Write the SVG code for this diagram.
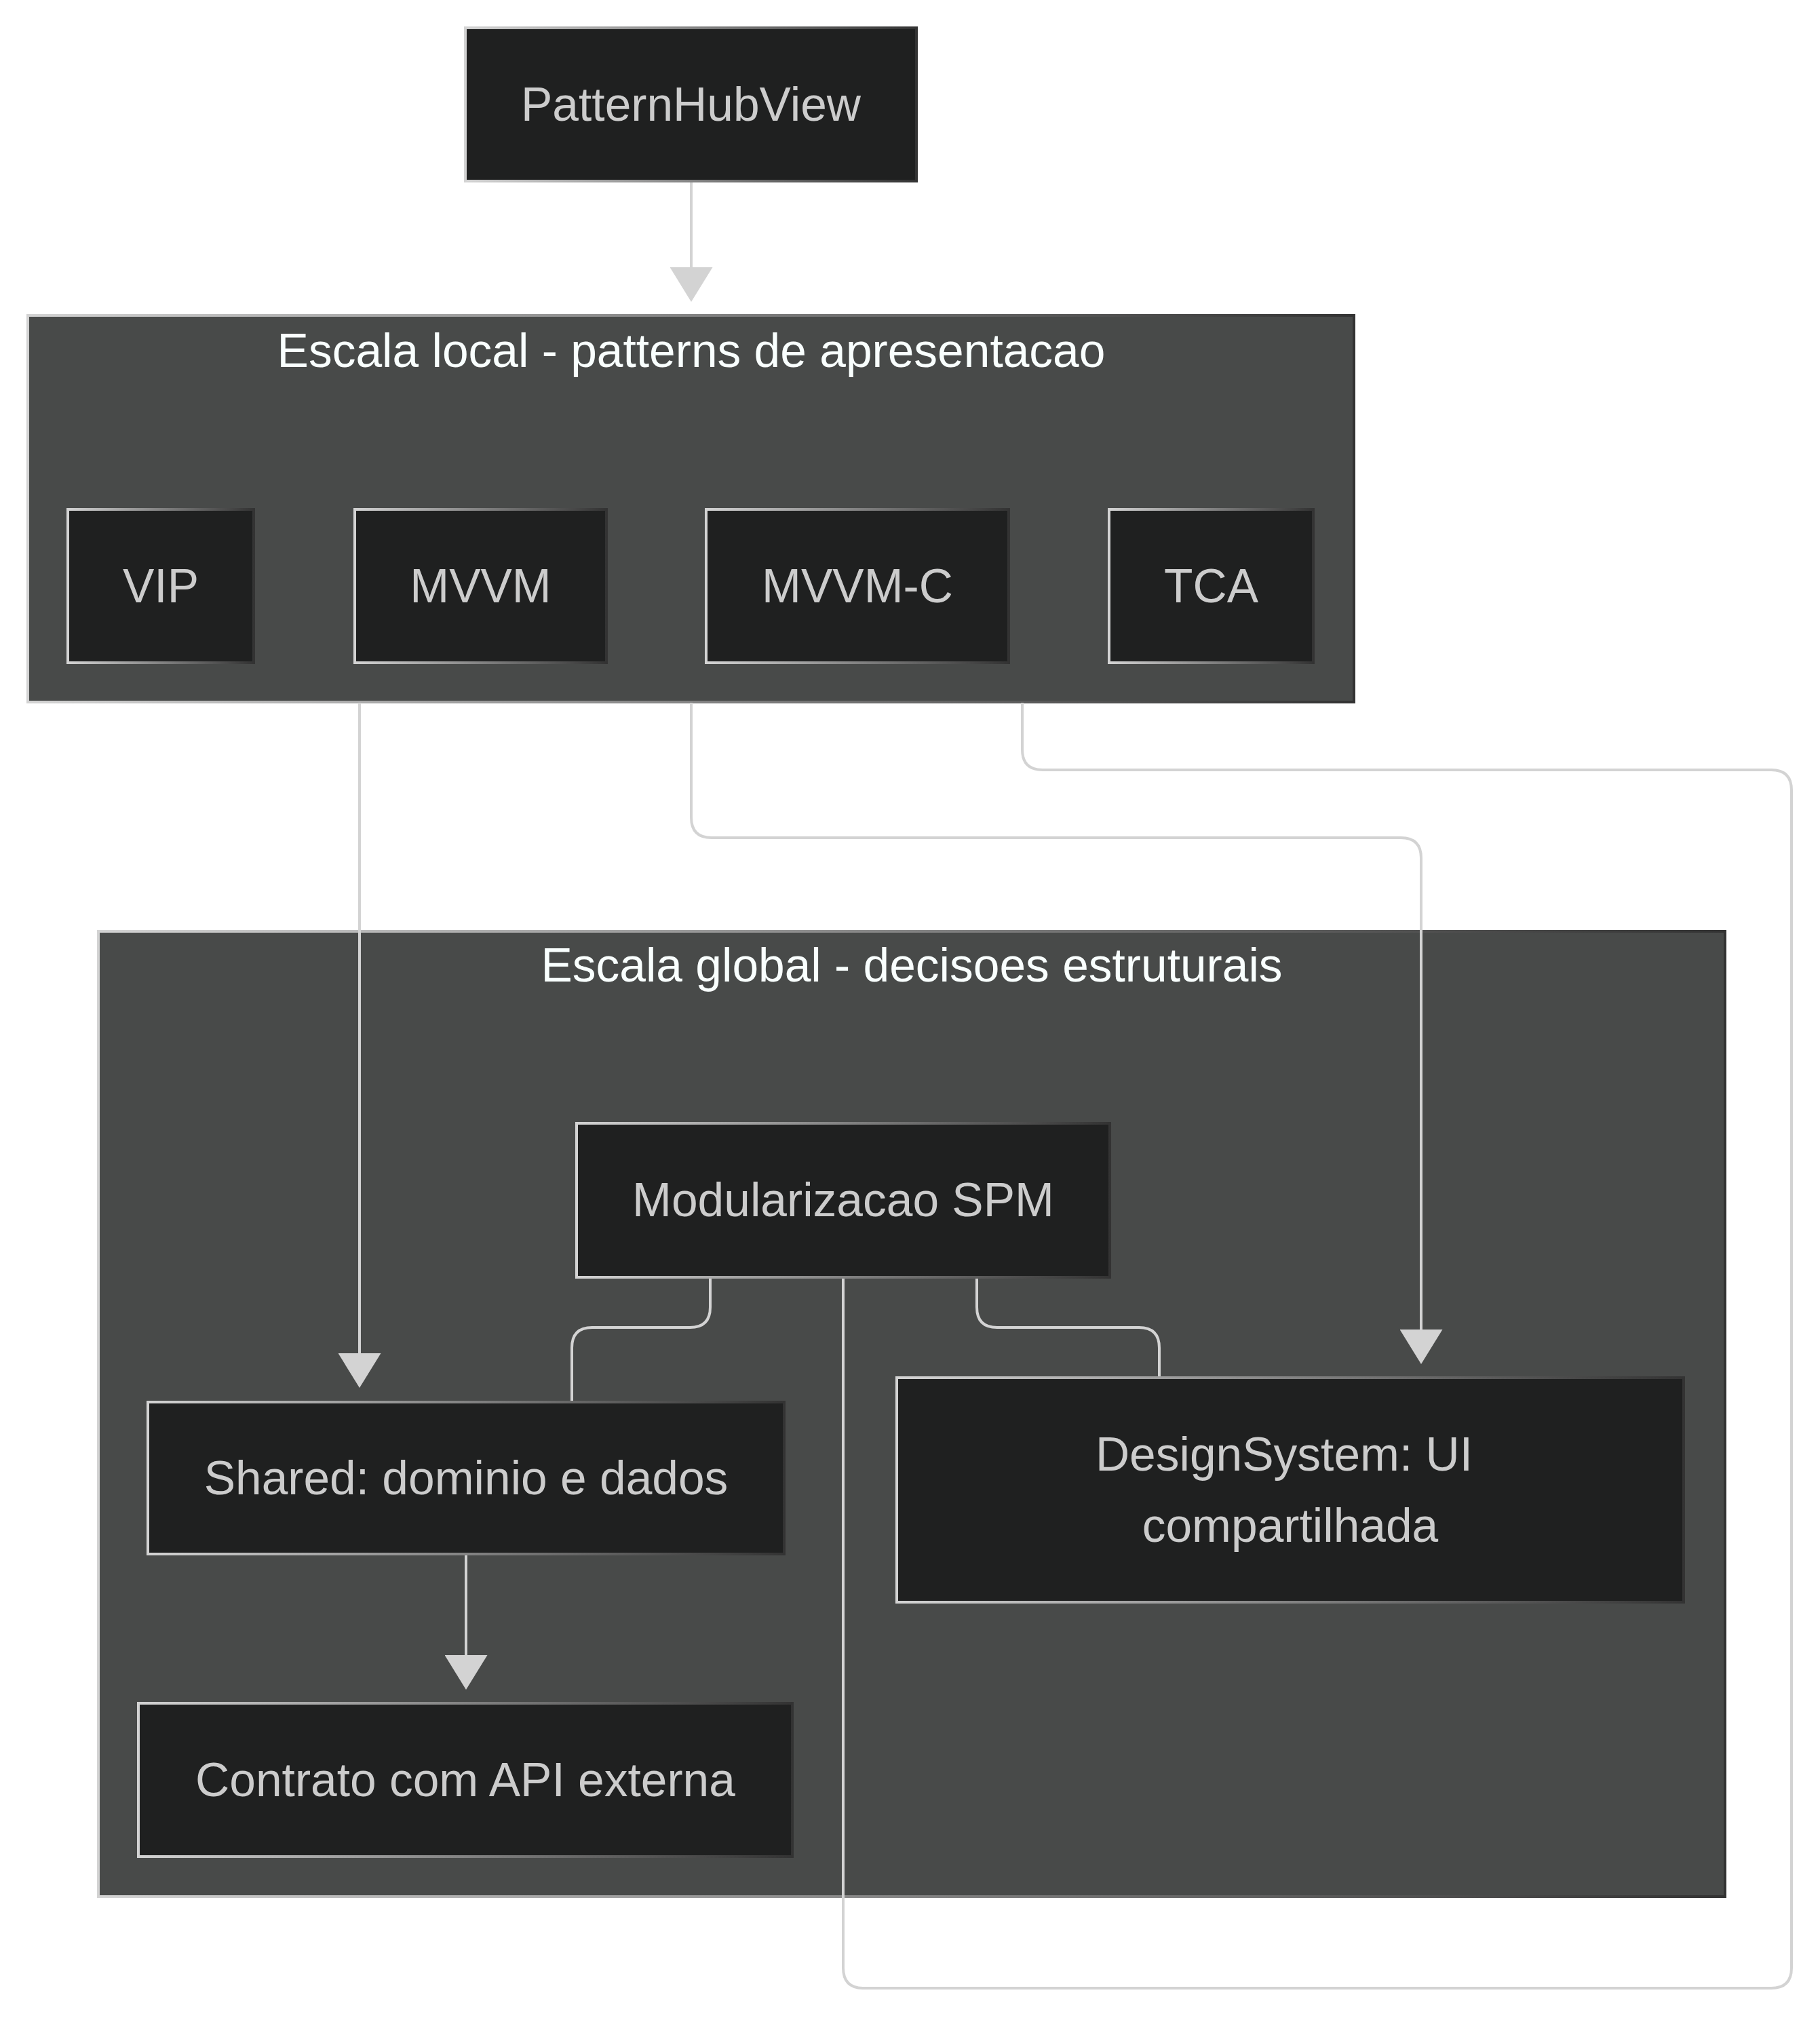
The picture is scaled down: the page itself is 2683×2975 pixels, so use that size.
<svg xmlns="http://www.w3.org/2000/svg" width="2683" height="2975" viewBox="0 0 2683 2975">
<style>
  .cluster { fill: #484a49; stroke: url(#edgeGrad); stroke-width: 4; }
  .node rect { fill: #1f2020; stroke: url(#edgeGrad); stroke-width: 4; }
  .node text { font-family: "Liberation Sans", Arial, sans-serif; font-size: 69.5px; fill: #cccccc; text-anchor: middle; }
  .ctitle { font-family: "Liberation Sans", Arial, sans-serif; font-size: 69.5px; fill: #f9fffe; text-anchor: middle; }
  .edge { fill: none; stroke: #d3d3d3; stroke-width: 4; }
  .arrow { marker-end: url(#arrowhead); }
</style>
<defs>
  <linearGradient id="edgeGrad" x1="0" y1="0" x2="1" y2="0">
    <stop offset="0" stop-color="#d3d3d3"/>
    <stop offset="1" stop-color="#333333"/>
  </linearGradient>
  <marker id="arrowhead" viewBox="0 0 51 63" refX="0" refY="31.5" markerWidth="51" markerHeight="63" markerUnits="userSpaceOnUse" orient="auto">
    <path d="M0,0 L51,31.5 L0,63 Z" fill="#d3d3d3"/>
  </marker>
</defs>
<rect width="2683" height="2975" fill="#ffffff"/>

<g id="cluster-local">
  <rect class="cluster" x="41" y="465" width="1955" height="570"/>
  <text class="ctitle" x="1019" y="541">Escala local - patterns de apresentacao</text>
</g>
<g id="cluster-global">
  <rect class="cluster" x="145" y="1373" width="2398" height="1423"/>
  <text class="ctitle" x="1344" y="1447">Escala global - decisoes estruturais</text>
</g>

<g id="connectors">
  <path class="edge arrow" d="M1019,267 V394"/>
  <path class="edge arrow" d="M530,1036 V1995"/>
  <path class="edge arrow" d="M1019,1036 V1205 Q1019,1235 1049,1235 H2065 Q2095,1235 2095,1265 V1960"/>
  <path class="edge" d="M1507,1036 V1105 Q1507,1135 1537,1135 H2611 Q2641,1135 2641,1165 V2901 Q2641,2931 2611,2931 H1273 Q1243,2931 1243,2901 V1883"/>
  <path class="edge" d="M1047,1883 V1927 Q1047,1957 1017,1957 H873 Q843,1957 843,1987 V2067"/>
  <path class="edge" d="M1440,1883 V1927 Q1440,1957 1470,1957 H1679 Q1709,1957 1709,1987 V2031"/>
  <path class="edge arrow" d="M687,2291 V2440"/>
</g>

<g id="node-hub" class="node">
  <rect x="686" y="41" width="665" height="226"/>
  <text x="1018.5" y="178">PatternHubView</text>
</g>
<g id="node-vip" class="node">
  <rect x="100" y="751" width="274" height="226"/>
  <text x="237" y="888">VIP</text>
</g>
<g id="node-mvvm" class="node">
  <rect x="523" y="751" width="371" height="226"/>
  <text x="708.5" y="888">MVVM</text>
</g>
<g id="node-mvvmc" class="node">
  <rect x="1041" y="751" width="446" height="226"/>
  <text x="1264" y="888">MVVM-C</text>
</g>
<g id="node-tca" class="node">
  <rect x="1635" y="751" width="301" height="226"/>
  <text x="1785.5" y="888">TCA</text>
</g>
<g id="node-spm" class="node">
  <rect x="850" y="1656" width="786" height="227"/>
  <text x="1243" y="1793">Modularizacao SPM</text>
</g>
<g id="node-shared" class="node">
  <rect x="218" y="2067" width="938" height="224"/>
  <text x="687" y="2203">Shared: dominio e dados</text>
</g>
<g id="node-ds" class="node">
  <rect x="1322" y="2031" width="1160" height="331"/>
  <text x="1902" y="2168"><tspan x="1893" y="2168">DesignSystem: UI</tspan><tspan x="1902" y="2273">compartilhada</tspan></text>
</g>
<g id="node-contrato" class="node">
  <rect x="204" y="2511" width="964" height="226"/>
  <text x="686" y="2648">Contrato com API externa</text>
</g>
</svg>
